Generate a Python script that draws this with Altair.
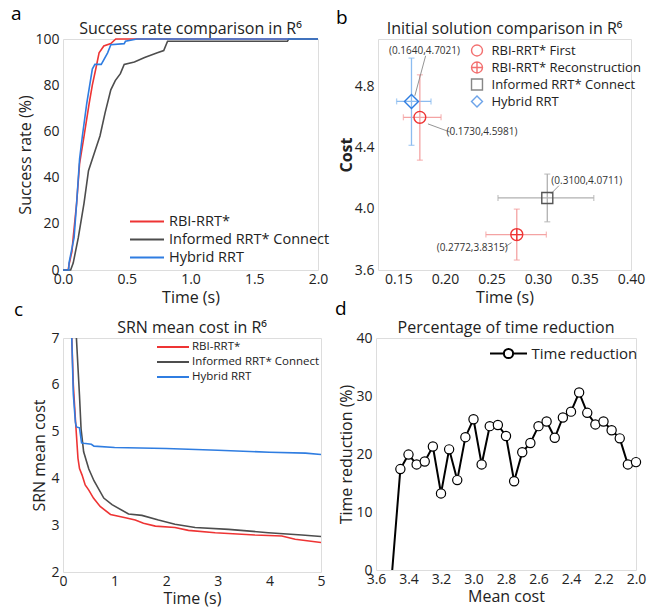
import altair as alt
import pandas as pd

FONT = "Open Sans"
RED = "#ee3434"
BLUE = "#2f7de1"
GRAY = "#4d4d4d"
TXT = "#222222"

# ---------------- panel a: success rate ----------------
a_names = ["RBI-RRT*", "Informed RRT* Connect", "Hybrid RRT"]
a_colors = [RED, GRAY, BLUE]
red_t = [0.0, 0.04, 0.05, 0.07, 0.08, 0.107, 0.13, 0.165, 0.205, 0.23, 0.257, 0.283, 0.32, 0.375, 0.414, 2.0]
red_v = [0, 0, 3, 8, 14, 29, 46, 58, 72, 80, 87, 94, 97, 98, 100, 100]
gray_t = [0.0, 0.06, 0.08, 0.12, 0.165, 0.2, 0.26, 0.29, 0.33, 0.375, 0.41, 0.45, 0.48, 0.56, 0.64, 0.74, 0.79, 0.82, 1.76, 1.77, 2.0]
gray_v = [0, 0, 3, 14, 29, 43, 53, 58, 68, 78, 82, 85, 89, 90, 92, 94, 95, 99, 99, 100, 100]
blue_t = [0.0, 0.045, 0.047, 0.087, 0.107, 0.13, 0.152, 0.186, 0.23, 0.25, 0.30, 0.35, 0.375, 0.48, 0.49, 0.58, 2.0]
blue_v = [0, 0, 3, 14, 29, 48, 58, 72, 87, 89, 89, 94, 97.5, 98, 99, 100, 100]

# ---------------- panel b: initial solution ----------------
b_names = ["RBI-RRT* First", "RBI-RRT* Reconstruction", "Informed RRT* Connect", "Hybrid RRT"]
b_colors = [RED, RED, "#555555", BLUE]
b_err_colors = ["#f4a3a3", "#f4a3a3", "#b0b0b0", "#8cbcf0"]
b_time = [0.1730, 0.2772, 0.3100, 0.1640]
b_cost = [4.5981, 3.8315, 4.0711, 4.7021]
b_tlo = [0.1553, 0.2440, 0.2570, 0.1480]
b_thi = [0.1958, 0.3090, 0.3600, 0.1850]
b_clo = [4.318, 3.665, 3.915, 4.415]
b_chi = [4.876, 3.998, 4.227, 4.985]
b_labels = ["(0.1730,4.5981)", "(0.2772,3.8315)", "(0.3100,4.0711)", "(0.1640,4.7021)"]
b_lab_x = [0.2398, 0.2292, 0.3525, 0.1780]
b_lab_y = [4.505, 3.747, 4.183, 5.033]
b_lead_x1 = [0.1817, 0.2644, 0.3137, 0.1676]
b_lead_y1 = [4.555, 3.7505, 4.097, 4.739]
b_lead_x2 = [0.2063, 0.2715, 0.3225, 0.1792]
b_lead_y2 = [4.500, 3.779, 4.151, 5.000]
CIRCLE_PLUS = "M-1,0A1,1 0 1,1 1,0A1,1 0 1,1 -1,0M-1,0L1,0M0,-1L0,1"
b_shapes = ["circle", CIRCLE_PLUS, "square", "diamond"]
b_sizes = [140, 144, 121, 196]

# ---------------- panel c: SRN mean cost ----------------
c_names = ["RBI-RRT*", "Informed RRT* Connect", "Hybrid RRT"]
c_colors = [RED, GRAY, BLUE]
c_red_t = [0.17, 0.2, 0.24, 0.29, 0.32, 0.37, 0.43, 0.5, 0.59, 0.72, 0.92, 1.21, 1.4, 1.56, 1.79, 2.17, 2.43, 2.95, 3.72, 4.24, 4.5, 5.0]
c_red_v = [7.0, 6.0, 5.27, 4.43, 4.21, 4.07, 3.86, 3.75, 3.58, 3.40, 3.23, 3.16, 3.11, 3.04, 2.98, 2.95, 2.89, 2.84, 2.79, 2.77, 2.70, 2.63]
c_gray_t = [0.26, 0.32, 0.35, 0.40, 0.5, 0.6, 0.79, 0.95, 1.27, 1.53, 1.85, 2.17, 2.56, 3.21, 3.98, 4.63, 5.0]
c_gray_v = [7.0, 5.76, 5.06, 4.57, 4.2, 3.95, 3.58, 3.44, 3.24, 3.21, 3.11, 3.02, 2.95, 2.91, 2.84, 2.79, 2.76]
c_blue_t = [0.17, 0.2, 0.24, 0.26, 0.32, 0.36, 0.4, 0.55, 0.6, 1.0, 2.0, 3.0, 4.0, 4.7, 5.0]
c_blue_v = [7.0, 5.8, 5.2, 5.1, 5.08, 4.76, 4.75, 4.73, 4.69, 4.66, 4.64, 4.60, 4.56, 4.54, 4.51]

# ---------------- panel d: time reduction ----------------
d_cost = [3.50, 3.45, 3.40, 3.35, 3.30, 3.25, 3.20, 3.15, 3.10, 3.05, 3.00, 2.95, 2.90, 2.85, 2.80,
          2.75, 2.70, 2.65, 2.60, 2.55, 2.50, 2.45, 2.40, 2.35, 2.30, 2.25, 2.20, 2.15, 2.10, 2.05, 2.00]
d_red = [0.0, 17.4, 19.9, 18.2, 18.7, 21.3, 13.2, 20.8, 15.5, 22.9, 26.0, 18.2, 24.8, 25.0, 23.1,
         15.3, 20.3, 21.9, 24.8, 25.6, 22.8, 26.3, 27.3, 30.6, 27.1, 25.1, 25.6, 24.1, 22.7, 18.2, 18.6]
d_marker = [False] + [True] * 30

AX = dict(labelFont=FONT, titleFont=FONT, labelFontSize=14, titleFontSize=16, labelColor=TXT,
          titleColor=TXT, grid=False, ticks=False, domain=False, labelPadding=4, titlePadding=1,
          titleFontWeight="normal", labelFlush=False, labelOverlap=False)
AXX = {**AX, "labelPadding": 2, "titlePadding": 2}
AXX_TOP = {**AX, "labelPadding": 2, "titlePadding": 3}

LINE_SYM = "M-2,0L2,0"
LINE_CIRCLE = "M-2,0L-0.5,0M0.5,0L2,0M-0.5,0A0.5,0.5 0 1,1 0.5,0A0.5,0.5 0 1,1 -0.5,0"
LETTER_FS = 19


def letter(ch, x, y):
    return alt.Chart(pd.DataFrame({"t": [ch]})).mark_text(
        font=FONT, fontSize=LETTER_FS, align="left", baseline="alphabetic", color="black"
    ).encode(text="t:N", x=alt.value(x), y=alt.value(y))


def line_legend(x, y, fs, rowpad, sym, size, off):
    return alt.Legend(title=None, orient="none", legendX=x, legendY=y,
                      symbolType=sym, symbolSize=size, symbolStrokeWidth=2,
                      labelOffset=off, labelLimit=400,
                      labelFont=FONT, labelFontSize=fs, labelColor=TXT,
                      rowPadding=rowpad, padding=0)


def ptitle(txt, off):
    return alt.Title(txt, font=FONT, fontSize=16, fontWeight="normal", color=TXT, offset=off)


# ---- build panel a
rows = []
for name, ts, vs in [(a_names[0], red_t, red_v), (a_names[1], gray_t, gray_v), (a_names[2], blue_t, blue_v)]:
    for i, (t, v) in enumerate(zip(ts, vs)):
        rows.append({"series": name, "t": t, "v": v, "i": i})
df_a = pd.DataFrame(rows)
pa = alt.Chart(df_a).mark_line(strokeWidth=1.6).encode(
    x=alt.X("t:Q", scale=alt.Scale(domain=[0, 2], nice=False),
            axis=alt.Axis(title="Time (s)", values=[0, 0.5, 1.0, 1.5, 2.0], format=".1f", **AXX_TOP)),
    y=alt.Y("v:Q", scale=alt.Scale(domain=[0, 100], nice=False),
            axis=alt.Axis(title="Success rate (%)", values=[0, 20, 40, 60, 80, 100], **AX)),
    color=alt.Color("series:N", scale=alt.Scale(domain=a_names, range=a_colors),
                    legend=line_legend(74.5, 173, 14.5, 2, LINE_SYM, 289, 12.5)),
    detail="series:N",
    order="i:Q",
)
panel_a = alt.layer(pa, letter("a", -52, -19)).properties(
    width=255, height=231, title=ptitle("Success rate comparison in R⁶", -32.4))

# ---- build panel b
df_b = pd.DataFrame({"series": b_names, "time": b_time, "cost": b_cost, "tlo": b_tlo, "thi": b_thi,
                     "clo": b_clo, "chi": b_chi, "ec": b_err_colors, "size": b_sizes})
xb = alt.X("time:Q", scale=alt.Scale(domain=[0.128, 0.40], nice=False, zero=False),
           axis=alt.Axis(title="Time (s)", values=[0.15, 0.2, 0.25, 0.3, 0.35, 0.4], format=".2f", **AXX_TOP))
yb = alt.Y("cost:Q", scale=alt.Scale(domain=[3.6, 5.11], nice=False, zero=False),
           axis=alt.Axis(title="Cost", values=[3.6, 3.8, 4.0, 4.2, 4.4, 4.6, 4.8, 5.0], format=".1f",
                         **{**AX, "titleFontWeight": "bold", "titlePadding": 0}))
base_b = alt.Chart(df_b)
ecol = alt.Color("ec:N", scale=None)
eh = base_b.mark_rule(strokeWidth=1.3).encode(x=alt.X("tlo:Q", title="Time (s)"), x2="thi:Q", y=yb, color=ecol)
ev = base_b.mark_rule(strokeWidth=1.3).encode(x=xb, y=alt.Y("clo:Q", title="Cost"), y2="chi:Q", color=ecol)
cap1 = base_b.mark_tick(orient="vertical", size=6, thickness=1.3).encode(x=alt.X("tlo:Q"), y=yb, color=ecol)
cap2 = base_b.mark_tick(orient="vertical", size=6, thickness=1.3).encode(x=alt.X("thi:Q"), y=yb, color=ecol)
cap3 = base_b.mark_tick(orient="horizontal", size=6, thickness=1.3).encode(x=xb, y=alt.Y("clo:Q"), color=ecol)
cap4 = base_b.mark_tick(orient="horizontal", size=6, thickness=1.3).encode(x=xb, y=alt.Y("chi:Q"), color=ecol)
b_leg = alt.Legend(title=None, orient="none", legendX=92.5, legendY=5,
                   symbolSize=120, symbolStrokeWidth=1.4, labelLimit=400, labelOffset=8,
                   labelFont=FONT, labelFontSize=13, labelColor=TXT,
                   rowPadding=0, padding=0)
pts = base_b.mark_point(filled=False, strokeWidth=1.4, opacity=1).encode(
    x=xb, y=yb,
    size=alt.Size("size:Q", scale=None),
    color=alt.Color("series:N", scale=alt.Scale(domain=b_names, range=b_colors), legend=b_leg),
    shape=alt.Shape("series:N", scale=alt.Scale(domain=b_names, range=b_shapes), legend=b_leg),
)
df_lab = pd.DataFrame({"lab": b_labels, "lx": b_lab_x, "ly": b_lab_y, "x1": b_lead_x1, "y1": b_lead_y1,
                       "x2": b_lead_x2, "y2": b_lead_y2})
leads = alt.Chart(df_lab).mark_rule(color="#888888", strokeWidth=0.9).encode(
    x=alt.X("x1:Q"), x2="x2:Q", y=alt.Y("y1:Q"), y2="y2:Q")
labs = alt.Chart(df_lab).mark_text(font=FONT, fontSize=10, color="#333333").encode(
    x=alt.X("lx:Q"), y=alt.Y("ly:Q"), text="lab:N")
panel_b = alt.layer(eh, ev, cap1, cap2, cap3, cap4, leads, pts, labs, letter("b", -42, -15)).properties(
    width=253, height=231, title=ptitle("Initial solution comparison in R⁶", -28.4))

# ---- build panel c
rows = []
for name, ts, vs in [(c_names[0], c_red_t, c_red_v), (c_names[1], c_gray_t, c_gray_v), (c_names[2], c_blue_t, c_blue_v)]:
    for i, (t, v) in enumerate(zip(ts, vs)):
        rows.append({"series": name, "t": t, "v": v, "i": i})
df_c = pd.DataFrame(rows)
pc = alt.Chart(df_c).mark_line(strokeWidth=1.6, clip=True).encode(
    x=alt.X("t:Q", scale=alt.Scale(domain=[0, 5], nice=False),
            axis=alt.Axis(title="Time (s)", values=[0, 1, 2, 3, 4, 5], **AXX)),
    y=alt.Y("v:Q", scale=alt.Scale(domain=[2, 7], nice=False),
            axis=alt.Axis(title="SRN mean cost", values=[2, 3, 4, 5, 6, 7], **{**AX, "titlePadding": 3})),
    color=alt.Color("series:N", scale=alt.Scale(domain=c_names, range=c_colors),
                    legend=line_legend(101, 0, 11.5, 0, LINE_SYM, 256, 10)),
    detail="series:N",
    order="i:Q",
)
panel_c = alt.layer(pc, letter("c", -49, -22)).properties(
    width=258, height=234, title=ptitle("SRN mean cost in R⁶", -35.4))

# ---- build panel d
df_d = pd.DataFrame({"cost": d_cost, "red": d_red, "mk": d_marker, "series": ["Time reduction"] * len(d_cost)})
xd = alt.X("cost:Q", scale=alt.Scale(domain=[2.0, 3.6], reverse=True, nice=False, zero=False),
           axis=alt.Axis(title="Mean cost", values=[3.6, 3.4, 3.2, 3.0, 2.8, 2.6, 2.4, 2.2, 2.0], format=".1f", **AXX))
yd = alt.Y("red:Q", scale=alt.Scale(domain=[0, 40], nice=False),
           axis=alt.Axis(title="Time reduction (%)", values=[0, 10, 20, 30, 40], **AX))
ld = alt.Chart(df_d).mark_line(strokeWidth=2).encode(
    x=xd, y=yd,
    color=alt.Color("series:N", scale=alt.Scale(range=["black"]),
                    legend=alt.Legend(title=None, orient="none", legendX=122, legendY=5,
                                      symbolType=LINE_CIRCLE, symbolSize=342, symbolStrokeWidth=2,
                                      symbolFillColor="white", labelOffset=12.5, labelLimit=400,
                                      labelFont=FONT, labelFontSize=15, labelColor=TXT, padding=0)))
pd_ = alt.Chart(df_d).transform_filter("datum.mk").mark_point(
    filled=True, fill="white", stroke="black", strokeWidth=1.2, size=85, opacity=1).encode(x=xd, y=yd)
panel_d = alt.layer(ld, pd_, letter("d", -41, -23)).properties(
    width=260, height=232, title=ptitle("Percentage of time reduction", -36.4))

top = alt.hconcat(panel_a, panel_b, spacing=5).resolve_scale(color="independent", shape="independent")
bottom = alt.hconcat(panel_c, panel_d, spacing=8).resolve_scale(color="independent")
chart = alt.vconcat(top, bottom, spacing=-7).resolve_scale(
    color="independent", shape="independent").properties(
    padding={"left": 2, "top": -4, "right": 0, "bottom": 0}).configure_view(
    stroke="black", strokeWidth=1.5).configure(font=FONT)

chart.save("out.html", embed_options={"renderer": "svg", "actions": False})
